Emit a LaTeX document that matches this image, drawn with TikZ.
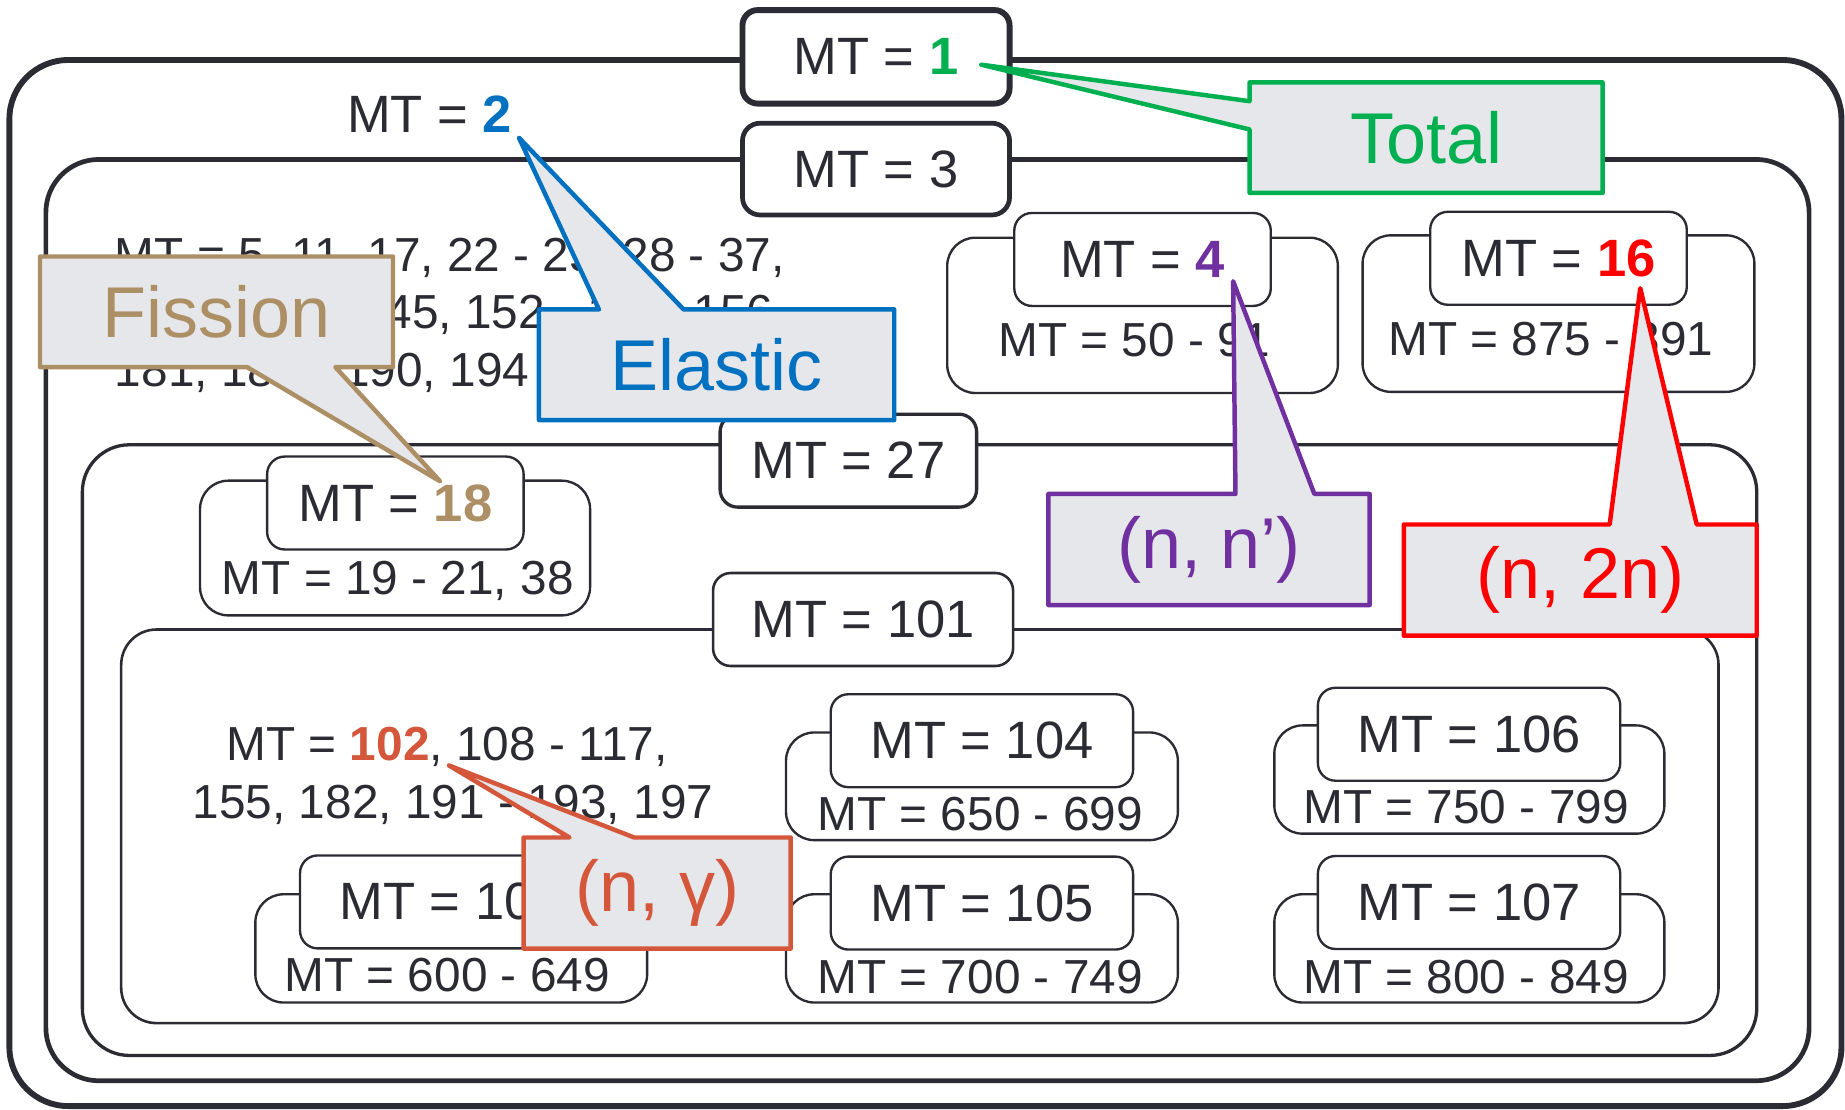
\documentclass[tikz,border=0pt]{standalone}
\usepackage{fontspec}
\setmainfont{Liberation Sans}
\usetikzlibrary{calc}

\pgfdeclarelayer{callshape}
\pgfdeclarelayer{calltext}
\pgfsetlayers{main,callshape,calltext}

\definecolor{ink}{HTML}{2B2B33}
\definecolor{cgreen}{HTML}{00B050}
\definecolor{cblue}{HTML}{0070C0}
\definecolor{ctan}{HTML}{AD8F65}
\definecolor{cpurple}{HTML}{7030A0}
\definecolor{cred}{HTML}{FF0000}
\definecolor{corange}{HTML}{D5573B}
\definecolor{cfill}{HTML}{E6E7EB}

\newcommand\fntlab{\fontsize{12.7pt}{15pt}\selectfont}
\newcommand\fntbody{\fontsize{11.55pt}{14pt}\selectfont}
\newcommand\fntcall{\fontsize{17.4pt}{20pt}\selectfont}

\tikzset{
  lab/.style={draw=ink, fill=white, rounded corners=1.5mm, inner sep=0pt, outer sep=0pt,
              minimum height=7.9mm, text=ink, font=\fntlab, line width=0.2mm},
  grp/.style={draw=ink, rounded corners=2.4mm, line width=0.2mm},
  sub/.style={anchor=base, inner sep=0pt, outer sep=0pt, text=ink, font=\fntbody},
  callbox/.style={inner sep=0pt, outer sep=0pt, font=\fntcall},
  tail/.style={fill=cfill, line width=0.38mm, line join=round},
}

\begin{document}
\begin{tikzpicture}[x=0.1mm, y=-0.1mm]
\useasboundingbox (0,0) rectangle (1568,943);

% nested containers: MT=1, MT=3, MT=27, MT=101
\draw[ink, line width=0.5mm, rounded corners=5mm] (8,51) rectangle (1565,940);
\draw[ink, line width=0.4mm, rounded corners=4.5mm] (39,135.5) rectangle (1537.5,918.5);
\draw[ink, line width=0.28mm, rounded corners=4mm] (70,378) rectangle (1493,897);
\draw[ink, line width=0.22mm, rounded corners=3mm] (103,535) rectangle (1460.5,869.5);

% container labels
\node[lab, line width=0.5mm, rounded corners=1.3mm, minimum width=22.7mm, minimum height=7.95mm]
  (mt1) at (744.5,48.3) {MT = \textcolor{cgreen}{\bfseries 1}};
\node[lab, line width=0.4mm, minimum width=22.7mm, minimum height=7.8mm]
  (mt3) at (744.5,143.7) {MT = 3};
\node[lab, line width=0.28mm, minimum width=21.8mm] (mt27) at (721,391.5) {MT = 27};
\node[lab, line width=0.22mm, minimum width=25.5mm] (mt101) at (733.5,526.5) {MT = 101};

\node[sub, font=\fntlab] (mt2) at (365,112.5) {MT = \textcolor{cblue}{\bfseries 2}};

% remaining MT=3 reactions
\node[anchor=base west, inner sep=0pt, font=\fntbody, text=ink] (rest1) at (97,231)
  {MT = 5, 11, 17, 22 - 25, 28 - 37,};
\node[anchor=base west, inner sep=0pt, font=\fntbody, text=ink] (rest2) at (97,279.5)
  {41 - 42, 44 - 45, 152 - 154, 156 -};
\node[anchor=base west, inner sep=0pt, font=\fntbody, text=ink] (rest3) at (97,328.5)
  {181, 183 - 190, 194 - 196, 198 - 200};

% MT=4 and MT=16 groups
\draw[grp] (805,202) rectangle (1137,334);
\node[lab, minimum width=21.8mm] (mt4) at (971,220.5) {MT = \textcolor{cpurple}{\bfseries 4}};
\node[sub] (mt4r) at (964,303) {MT = 50 - 91};

\draw[grp] (1158,200) rectangle (1491,333);
\node[lab, minimum width=21.8mm] (mt16) at (1324.5,219.5) {MT = \textcolor{cred}{\bfseries 16}};
\node[sub] (mt16r) at (1318,302) {MT = 875 - 891};

% MT=18 group
\draw[grp] (170,408.5) rectangle (501.5,523);
\node[lab, minimum width=21.8mm] (mt18) at (336,427.5) {MT = \textcolor{ctan}{\bfseries 18}};
\node[sub] (mt18r) at (338,505) {MT = 19 - 21, 38};

% MT=101 members
\node[sub] (cap1) at (380,646) {MT = \textcolor{corange}{\bfseries 102}, 108 - 117,};
\node[sub] (cap2) at (385,696) {155, 182, 191 - 193, 197};

\draw[grp] (217,760) rectangle (550,852);
\node[lab, minimum width=25.7mm] (mt103) at (383.5,766.5) {MT = 103};
\node[sub] (mt103r) at (380,843) {MT = 600 - 649};

\draw[grp] (668,622.5) rectangle (1001,714);
\node[lab, minimum width=25.7mm] (mt104) at (834.5,629.5) {MT = 104};
\node[sub] (mt104r) at (833,706) {MT = 650 - 699};

\draw[grp] (668,760) rectangle (1001,852);
\node[lab, minimum width=25.7mm] (mt105) at (834.5,767.5) {MT = 105};
\node[sub] (mt105r) at (833,844) {MT = 700 - 749};

\draw[grp] (1083,616.5) rectangle (1414.5,708.5);
\node[lab, minimum width=25.7mm] (mt106) at (1248.5,624) {MT = 106};
\node[sub] (mt106r) at (1246,700) {MT = 750 - 799};

\draw[grp] (1083,760) rectangle (1414.5,852);
\node[lab, minimum width=25.7mm] (mt107) at (1248.5,767) {MT = 107};
\node[sub] (mt107r) at (1246,844) {MT = 800 - 849};

% callout pointer tips
\coordinate (tipT) at (834,55);
\coordinate (tipE) at (441,117);
\coordinate (tipF) at (374,409);
\coordinate (tipI) at (1048,239);
\coordinate (tipD) at (1394,245);
\coordinate (tipG) at (381.5,650.5);

% callout texts
\begin{pgfonlayer}{calltext}
\node[callbox, text=cgreen, minimum width=30mm, minimum height=9.4mm] (total) at (1212,117) {Total};
\node[callbox, text=cblue, minimum width=30.2mm, minimum height=9.4mm] (elastic) at (609,310) {Elastic};
\node[callbox, text=ctan, minimum width=30mm, minimum height=9.4mm] (fission) at (184,265) {Fission};
\node[callbox, text=cpurple, minimum width=27.3mm, minimum height=9.45mm] (inel) at (1027.5,467) {(n, n’)};
\node[callbox, text=cred, minimum width=30mm, minimum height=9.45mm] (ntwon) at (1343,493) {(n, 2n)};
\node[callbox, text=corange, minimum width=22.7mm, minimum height=9.45mm] (ngam) at (558.5,759) {(n, γ)};
\end{pgfonlayer}

% callout shapes
\begin{pgfonlayer}{callshape}
\draw[tail, draw=cgreen] (total.north west) -- (total.north east) -- (total.south east)
  -- (total.south west) -- ([yshift=-4mm]total.north west) -- (tipT)
  -- ([yshift=-1.6mm]total.north west) -- cycle;
\draw[tail, draw=cblue] (elastic.north west) -- ([xshift=5.1mm]elastic.north west) -- (tipE)
  -- ([xshift=12.3mm]elastic.north west) -- (elastic.north east) -- (elastic.south east)
  -- (elastic.south west) -- cycle;
\draw[tail, draw=ctan] (fission.north west) -- (fission.north east) -- (fission.south east)
  -- ([xshift=25.1mm]fission.south west) -- (tipF) -- ([xshift=17.6mm]fission.south west)
  -- (fission.south west) -- cycle;
\draw[tail, draw=cpurple] (inel.north west) -- ([xshift=15.9mm]inel.north west) -- (tipI)
  -- ([xshift=22.6mm]inel.north west) -- (inel.north east) -- (inel.south east)
  -- (inel.south west) -- cycle;
\draw[tail, draw=cred] (ntwon.north west) -- ([xshift=17.5mm]ntwon.north west) -- (tipD)
  -- ([xshift=24.9mm]ntwon.north west) -- (ntwon.north east) -- (ntwon.south east)
  -- (ntwon.south west) -- cycle;
\draw[tail, draw=corange] (ngam.north west) -- ([xshift=3.9mm]ngam.north west) -- (tipG)
  -- ([xshift=9.4mm]ngam.north west) -- (ngam.north east) -- (ngam.south east)
  -- (ngam.south west) -- cycle;
\end{pgfonlayer}

\end{tikzpicture}
\end{document}
